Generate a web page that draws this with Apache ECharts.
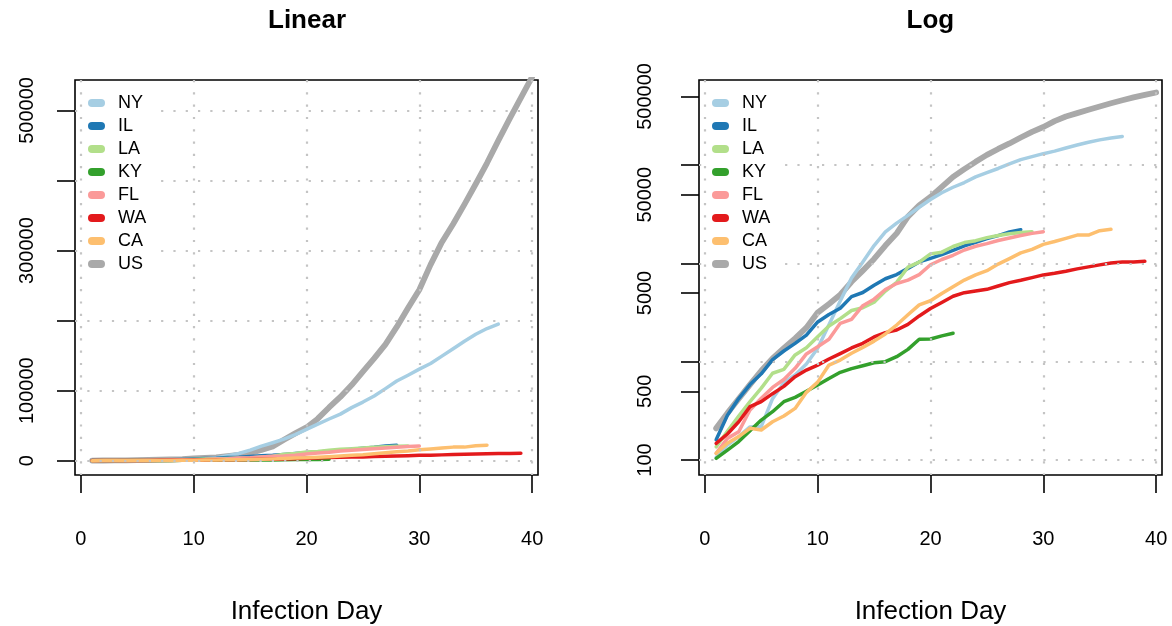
<!DOCTYPE html>
<html><head><meta charset="utf-8">
<script src="https://cdn.jsdelivr.net/npm/echarts@6/dist/echarts.min.js"></script>
<style>html,body{margin:0;padding:0;background:#fff}#c{width:1172px;height:626px}</style>
</head><body><div id="c"></div>
<script>
// ---- data ----
const legendNames = ['NY','IL','LA','KY','FL','WA','CA','US'];
const drawOrder = ['US','NY','IL','LA','KY','FL','WA','CA'];
const seriesColors = {NY:'#A6CEE3', IL:'#1F78B4', LA:'#B2DF8A', KY:'#33A02C', FL:'#FB9A99', WA:'#E31A1C', CA:'#FDBF6F', US:'#A9A9A9'};
const US = [210,300,420,585,810,1080,1370,1730,2220,3160,3870,4800,6500,8450,11100,15200,20200,29900,39000,47500,60000,76000,91000,108000,127000,146000,166000,191000,218000,244000,280000,312000,338000,366000,395000,425000,457000,488000,518000,548000];
const NY = [106,142,173,217,220,421,610,732,950,1374,2382,4152,7102,10356,15168,20875,25665,30811,37258,44635,52318,59513,66497,75795,83712,92381,102863,113704,122031,130689,138863,149316,159937,170512,180458,188694,195031];
const IL = [161,286,422,585,753,1049,1285,1535,1865,2538,3024,3491,4596,5057,5994,6980,7695,8904,10357,11256,12262,13549,15079,16422,17887,19180,20852,22025];
const LA = [136,196,280,392,538,763,837,1172,1388,1795,2305,2746,3315,3540,4025,5237,6424,9150,10297,12496,13010,14867,16284,17030,18283,19253,20014,20595,21016];
const KY = [104,126,154,199,255,310,392,434,500,580,676,780,850,910,977,1000,1125,1335,1690,1700,1830,1950];
const FL = [117,166,194,323,424,548,660,856,1200,1420,1690,2460,2700,3710,4330,5430,6240,6750,7700,9690,10960,12100,13700,14950,15900,17100,18160,19200,20200,21000];
const WA = [148,184,245,349,392,473,561,704,823,924,1065,1210,1380,1540,1785,1975,2100,2400,2920,3480,4010,4630,5040,5240,5450,5890,6370,6730,7170,7640,7950,8330,8800,9220,9660,10100,10340,10340,10500];
const CA = [117,148,173,210,202,245,280,335,488,620,925,1040,1220,1400,1620,1915,2360,3000,3780,4170,4950,5800,6770,7640,8430,9850,11200,12800,13900,15600,16700,18000,19400,19400,21500,22200];
const seriesData = {US, NY, IL, LA, KY, FL, WA, CA};
const xTicks = [0,10,20,30,40];
const linTicks = [0,100000,200000,300000,400000,500000];
const linLabels = [0,100000,300000,500000];
const logTicks = [100,500,1000,5000,10000,50000,100000,500000];
const logLabels = [100,500,5000,50000,500000];
const logGrid = [100,1000,10000,100000];
const titles = ['Linear','Log'];
const xName = 'Infection Day';

// ---- chart ----
const FONT = '"Liberation Sans", Arial, Helvetica, sans-serif';
const gridDots = {show:true, lineStyle:{color:'#c4c4c4', width:2.2, type:[2.2,10.1], cap:'butt'}};
const tickStyle = {color:'#000', width:1.6};
function xAxisFor(i){
  return {gridIndex:i, type:'value', min:-0.52, max:40.52, z:3, position:'bottom',
    axisLine:{show:false, onZero:false},
    axisTick:{show:true, inside:false, customValues:xTicks, length:18, lineStyle:tickStyle},
    axisLabel:{customValues:xTicks, margin:54, fontSize:20, color:'#000', fontFamily:FONT, formatter:v=>String(Math.round(v))},
    splitLine:gridDots,
    name:xName, nameLocation:'middle', nameGap:124,
    nameTextStyle:{fontSize:26, color:'#000', fontFamily:FONT}};
}
const series = [];
drawOrder.forEach(n=>{
  [0,1].forEach(g=>{
    series.push({name:n, type:'line', xAxisIndex:g, yAxisIndex:g,
      data:seriesData[n].map((v,i)=>[i+1,v]),
      showSymbol:false, symbol:'none', clip:true, silent:true, z:2,
      color:seriesColors[n], itemStyle:{color:seriesColors[n]},
      lineStyle:{color:seriesColors[n], width:n==='US'?5.8:3.5, cap:'round', join:'round'}});
  });
});
const legendIcon = 'path://M4,0H13A4,4,0,0,1,13,8H4A4,4,0,0,1,4,0Z';
function legendAt(left){
  return {data:legendNames, orient:'vertical', left:left, top:89, padding:5, itemWidth:17, itemHeight:8, itemGap:5,
    icon:legendIcon, backgroundColor:'#fff', selectedMode:false, z:4,
    textStyle:{fontSize:18, lineHeight:18, color:'#000', fontFamily:FONT, padding:[0,0,0,8]}};
}
const gridBase = {top:80, width:463, height:395, show:true, borderColor:'#000', borderWidth:1.6,
  backgroundColor:'transparent', containLabel:false, outerBoundsMode:'none'};
const option = {
  animation:false,
  textStyle:{fontFamily:FONT},
  title:[
    {text:titles[0], left:268, top:7.5, padding:0, textStyle:{fontSize:26, fontWeight:'bold', lineHeight:26, color:'#000', fontFamily:FONT}},
    {text:titles[1], left:906.5, top:7.5, padding:0, textStyle:{fontSize:26, fontWeight:'bold', lineHeight:26, color:'#000', fontFamily:FONT}}
  ],
  legend:[legendAt(83), legendAt(707)],
  grid:[
    Object.assign({left:75}, gridBase),
    Object.assign({left:699}, gridBase)
  ],
  xAxis:[xAxisFor(0), xAxisFor(1)],
  yAxis:[
    {gridIndex:0, type:'value', min:-20400, max:543500, z:3, position:'left',
      axisLine:{show:false, onZero:false},
      axisTick:{show:true, inside:false, customValues:linTicks, length:18, lineStyle:tickStyle},
      axisLabel:{customValues:linLabels, rotate:90, margin:38, fontSize:20, color:'#000', fontFamily:FONT, formatter:v=>String(Math.round(v))},
      splitLine:gridDots},
    {gridIndex:1, type:'log', logBase:10, min:70.4, max:734000, z:3, position:'left',
      axisLine:{show:false, onZero:false},
      axisTick:{show:true, inside:false, customValues:logTicks, length:18, lineStyle:tickStyle},
      axisLabel:{customValues:logLabels, rotate:90, margin:44, fontSize:20, color:'#000', fontFamily:FONT, formatter:v=>String(Math.round(v))},
      splitLine:{show:false}},
    {gridIndex:1, type:'log', logBase:10, min:70.4, max:734000, z:3, position:'left',
      axisLine:{show:false, onZero:false},
      axisTick:{show:false, customValues:logGrid},
      axisLabel:{show:false},
      splitLine:gridDots}
  ],
  series:series
};
const chart = echarts.init(document.getElementById('c'), null, {renderer:'canvas'});
chart.setOption(option);
</script>
</body></html>
